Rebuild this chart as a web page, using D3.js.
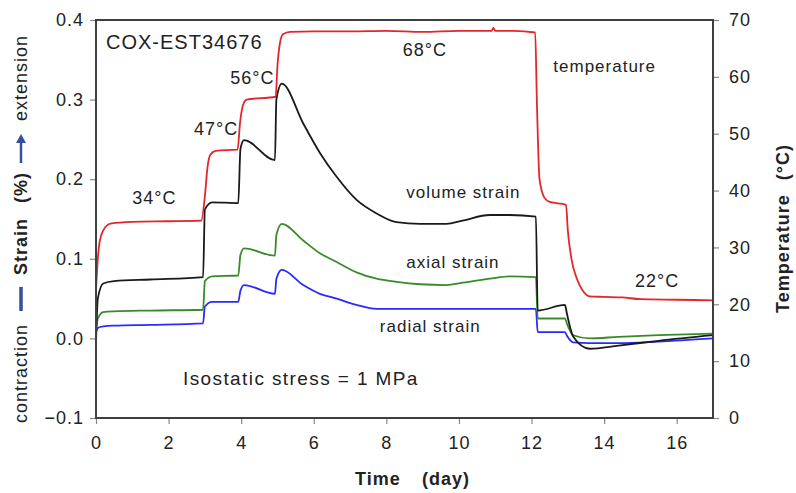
<!DOCTYPE html>
<html><head><meta charset="utf-8">
<script src="https://cdn.jsdelivr.net/npm/d3@7"></script>
<style>
html,body{margin:0;padding:0;background:#fff;}
svg{display:block;}
text{font-family:"Liberation Sans",Arial,sans-serif;fill:#222;letter-spacing:1px;}
</style></head>
<body>
<svg id="chart" width="796" height="493"></svg>
<script>
// ---- data ----
const tempDays = [0,0.05,0.1,0.2,0.4,1.0,2.0,2.9,3.0,3.07,3.15,3.3,3.9,3.97,4.05,4.15,4.95,5.0,5.07,5.15,5.35,6,7,8,9,10,10.9,10.95,11.0,11.5,12.1,12.15,12.22,12.35,12.5,12.95,13.0,13.1,13.25,13.4,13.6,14,14.5,15,16,17];
const temperature = [22.5,28,31,33,34.2,34.5,34.6,34.7,39,44,46.3,47,47.2,52,55,56,56.5,62,66,67.5,67.9,68,68,68.1,67.9,68.1,68.1,68.6,68.1,68.1,67.8,55,42,38.8,38.0,37.5,33,28,24.5,22.5,21.4,21.3,21.2,20.9,20.8,20.7];

const strainDays = [0,0.05,0.2,0.5,1.5,2.95,3.0,3.2,3.92,3.98,4.08,4.93,4.97,5.12,5.71,6.17,6.63,7.18,7.73,8.28,8.93,9.66,10.1,10.85,11.4,12.12,12.17,12.92,12.98,13.15,13.6,14.4,15.5,17];
const volumeStrain = [-0.006,0.05,0.069,0.072,0.074,0.077,0.162,0.171,0.170,0.238,0.249,0.224,0.300,0.320,0.270,0.233,0.203,0.174,0.157,0.146,0.144,0.144,0.148,0.155,0.155,0.153,0.035,0.042,0.030,0.002,-0.013,-0.009,-0.003,0.004];
const axialStrain = [0.010,0.025,0.033,0.034,0.035,0.036,0.072,0.078,0.079,0.105,0.113,0.104,0.130,0.144,0.123,0.107,0.096,0.083,0.075,0.071,0.068,0.067,0.070,0.075,0.078,0.077,0.025,0.025,0.018,0.004,0.000,0.002,0.004,0.006];
const radialStrain = [0.008,0.013,0.015,0.016,0.017,0.019,0.040,0.046,0.046,0.060,0.067,0.056,0.075,0.086,0.067,0.056,0.050,0.042,0.037,0.037,0.037,0.037,0.037,0.037,0.037,0.037,0.008,0.008,0.003,-0.005,-0.006,-0.006,-0.004,0.000];

const xTicks = [0,2,4,6,8,10,12,14,16];
const strainTicks = [-0.1,0.0,0.1,0.2,0.3,0.4];
const tempTicks = [0,10,20,30,40,50,60,70];

const tempLabels = [
  {text:"34°C", day:1.0, temp:37.6},
  {text:"47°C", day:2.7, temp:49.7},
  {text:"56°C", day:3.7, temp:58.7},
  {text:"68°C", day:8.45, temp:63.6},
  {text:"22°C", day:14.85, temp:23.0}
];
const seriesLabels = [
  {text:"temperature", day:12.6, temp:60.9},
  {text:"volume strain", day:8.55, strain:0.176},
  {text:"axial strain", day:8.55, strain:0.089},
  {text:"radial strain", day:7.82, strain:0.008}
];

// ---- layout ----
const W = 796, H = 493;
const m = {left:96, right:796-713, top:20, bottom:493-418};
const svg = d3.select("#chart");
const x = d3.scaleLinear().domain([0,17]).range([m.left, W-m.right]);
const yS = d3.scaleLinear().domain([-0.1,0.4]).range([H-m.bottom, m.top]);
const yT = d3.scaleLinear().domain([0,70]).range([H-m.bottom, m.top]);

const frameColor = "#3f3f3f";

// axes
const fmtS = d => d3.format(".1f")(d);
const gL = svg.append("g").attr("transform",`translate(${m.left},0)`)
  .call(d3.axisLeft(yS).tickValues(strainTicks).tickFormat(fmtS).tickSize(6).tickPadding(6));
const gR = svg.append("g").attr("transform",`translate(${W-m.right},0)`)
  .call(d3.axisRight(yT).tickValues(tempTicks).tickSize(6).tickPadding(10));
const gB = svg.append("g").attr("transform",`translate(0,${H-m.bottom})`)
  .call(d3.axisBottom(x).tickValues(xTicks).tickSize(6).tickPadding(12));
[gL,gR,gB].forEach(g=>{
  g.select(".domain").remove();
  g.selectAll(".tick line").attr("stroke","#888").attr("stroke-width",1.2);
  g.selectAll(".tick text").attr("font-size",18).attr("fill","#222")
    .style("font-family","'Liberation Sans',Arial,sans-serif");
});

// lines
const curve = d3.curveMonotoneX;
const lineS = vals => d3.line().curve(curve).x((d,i)=>x(strainDays[i])).y(d=>yS(d))(vals);
const lineT = d3.line().curve(curve).x((d,i)=>x(tempDays[i])).y(d=>yT(d));
const plot = svg.append("g").attr("fill","none").attr("stroke-width",1.8).attr("stroke-linejoin","round");
plot.append("path").attr("d",lineS(radialStrain)).attr("stroke","#2a2aff");
plot.append("path").attr("d",lineS(axialStrain)).attr("stroke","#3a8a2a");
plot.append("path").attr("d",lineS(volumeStrain)).attr("stroke","#1a1a1a");
plot.append("path").attr("d",lineT(temperature)).attr("stroke","#e3262b");

// frame
svg.append("rect").attr("x",m.left).attr("y",m.top)
  .attr("width",W-m.right-m.left).attr("height",H-m.bottom-m.top)
  .attr("fill","none").attr("stroke",frameColor).attr("stroke-width",2);

// annotations
svg.append("text").attr("x",106).attr("y",49).attr("font-size",20).text("COX-EST34676");
tempLabels.forEach(l=>{
  svg.append("text").attr("x",x(l.day)).attr("y",yT(l.temp)).attr("font-size",18).text(l.text);
});
seriesLabels.forEach(l=>{
  const yy = l.temp!==undefined ? yT(l.temp) : yS(l.strain);
  svg.append("text").attr("x",x(l.day)).attr("y",yy).attr("font-size",17).text(l.text);
});
svg.append("text").attr("x",183).attr("y",385).attr("font-size",19).style("letter-spacing","1.4px").text("Isostatic stress = 1 MPa");

// x axis title
svg.append("text").attr("x",355).attr("y",485).attr("font-size",18).attr("font-weight","bold").text("Time");
svg.append("text").attr("x",422).attr("y",485).attr("font-size",18).attr("font-weight","bold").text("(day)");

// right title
const rt = svg.append("text").attr("transform","translate(789,313) rotate(-90)").attr("font-size",18).attr("font-weight","bold");
rt.append("tspan").text("Temperature");
rt.append("tspan").attr("dx",14).text("(°C)");

// left title pieces (rotated, read bottom to top)
const lt = svg.append("g").attr("transform","translate(27,0) rotate(-90)");
lt.append("text").attr("x",-423).attr("y",0).attr("font-size",18).text("contraction");
lt.append("line").attr("x1",-311).attr("x2",-287).attr("y1",-6).attr("y2",-6).attr("stroke","#34509a").attr("stroke-width",3.5);
lt.append("text").attr("x",-275).attr("y",0).attr("font-size",18).attr("font-weight","bold").text("Strain");
lt.append("text").attr("x",-203).attr("y",0).attr("font-size",18).attr("font-weight","bold").text("(%)");
lt.append("line").attr("x1",-163).attr("x2",-140).attr("y1",-6).attr("y2",-6).attr("stroke","#34509a").attr("stroke-width",2.5);
lt.append("path").attr("d","M-134,-6 L-143,-11 L-143,-1 Z").attr("fill","#34509a");
lt.append("text").attr("x",-121).attr("y",0).attr("font-size",18).text("extension");
</script>
</body></html>
